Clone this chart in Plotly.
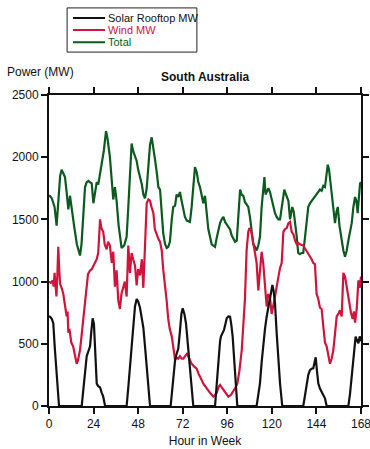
import plotly.graph_objects as go

# ---- data (hour in week, MW) ----
solar_h = [0, 0.5, 1.5, 2.3, 3.2, 4.1, 5, 5.4, 17.6, 18.5, 19.4, 20.3, 21.2, 22.1, 22.8, 23.5, 24.2, 24.8, 25.3, 25.7,
           26.5, 27.5, 28.3, 29.2, 30.2, 41.8, 42.7, 43.6, 44.5, 45.3, 46.3, 47.2, 48, 49, 49.9, 50.8, 51.7, 52.6, 53.5,
           54.4, 65.5, 66.5, 67.9, 68.7, 69.6, 70.5, 71.3, 72, 72.9, 73.8, 74.7, 75.6, 76.5, 77.7, 89.4, 90.3, 91.2,
           92.1, 92.6, 93.3, 94.2, 95, 95.7, 96.6, 97.5, 98.2, 98.9, 99.6, 100.2, 101.4, 111.8, 112.7, 113.6, 114.5,
           115.4, 116.3, 117.2, 118.1, 119, 119.7, 120.3, 121, 121.7, 122.6, 123.5, 124.4, 125.6, 136.9, 137.8, 138.7,
           139.6, 140.5, 141.4, 142.3, 143, 143.6, 144.3, 145, 145.9, 146.8, 147.7, 148.6, 149.5, 161.2, 162.1, 163,
           164.2, 165.1, 165.8, 166.6, 167.3, 168]
solar_mw = [720, 718, 700, 665, 450, 240, 60, 0, 0, 130, 300, 400, 440, 480, 600, 705, 660, 500, 300, 180,
            160, 150, 110, 75, 0, 0, 150, 300, 450, 640, 800, 860, 840, 790, 720, 630, 480, 310, 120,
            0, 0, 150, 370, 420, 460, 600, 740, 785, 740, 660, 520, 370, 180, 0, 0, 180, 370,
            520, 560, 580, 610, 660, 705, 720, 718, 650, 557, 400, 263, 0, 0, 80, 182, 350,
            504, 620, 718, 800, 879, 940, 973, 920, 825, 584, 380, 182, 0, 0, 80, 182,
            250, 289, 300, 303, 350, 391, 280, 182, 140, 115, 90, 62, 0, 0, 100, 236,
            450, 557, 530, 504, 560, 520]

wind_h = [0, 1, 2, 2.5, 3, 3.5, 4, 4.5, 5, 5.5, 6, 7, 7.7, 8.5, 9.5, 10, 10.4, 11, 12, 13, 14, 14.9, 15.5, 16.7,
          17.5, 18.5, 19.5, 20.3, 21, 22.1, 23, 24, 24.8, 25.7, 26.5, 27, 27.5, 28.2, 29.2, 30, 31, 31.8, 32.8,
          33.8, 34.6, 35.5, 36.4, 37.3, 38.2, 39, 40, 40.8, 41.8, 42.7, 43.6, 44.5, 45.3, 46.3, 47.2, 48, 49, 50,
          50.8, 51.5, 52.6, 53.5, 54.4, 55.2, 56.2, 57, 58, 59, 59.8, 60.7, 61.5, 62.5, 63.4, 64.2, 65, 66.1, 67,
          67.9, 68.7, 69.6, 70.5, 71.5, 72.3, 73.5, 74.5, 75.5, 76.8, 78, 79.5, 80.5, 81.3, 82.2, 83.1, 84.5, 85.8,
          87, 88.5, 89.5, 90.3, 91.2, 92.1, 93, 93.9, 95, 96.6, 98, 99.2, 100.5, 101.4, 102.5, 103.8, 104.6, 105.5,
          106.4, 107.3, 107.9, 108.5, 109.2, 110, 110.9, 111.8, 112.7, 113.6, 114.5, 115.4, 116.2, 117.2, 118, 119,
          119.9, 120.8, 121.7, 122.6, 123.5, 124.4, 125.3, 126.2, 127, 128, 128.9, 129.8, 130.7, 131.6, 132.5,
          133.4, 134.3, 135.2, 136.9, 138.7, 140.5, 141.4, 142.3, 143.2, 144.1, 145, 145.9, 146.8, 147.7, 148.6,
          149.5, 150.4, 151.3, 152.2, 153.1, 154, 154.9, 155.8, 156.7, 157.6, 158.5, 159.4, 160.3, 161.2, 162,
          162.6, 163.5, 164.2, 164.8, 165.7, 166.6, 167.3, 168]
wind_mw = [1000, 990, 1010, 960, 1070, 1000, 880, 1050, 1280, 1100, 980, 940, 900, 820, 720, 760, 590, 620, 510, 480,
           400, 340, 360, 450, 560, 720, 880, 1010, 1060, 1090, 1100, 1130, 1150, 1180, 1230, 1350, 1500, 1430, 1400,
           1300, 1260, 1320, 1290, 1150, 1240, 960, 1090, 850, 780, 900, 960, 1000, 880, 1290, 1070, 1230, 1180,
           1130, 970, 1100, 1050, 1180, 950, 1200, 1630, 1660, 1650, 1600, 1550, 1420, 1370, 1340, 1320, 1250,
           1100, 980, 840, 700, 620, 560, 460, 370, 390, 380, 400, 380, 380, 410, 425, 380, 340, 320, 300, 260,
           240, 210, 180, 150, 130, 100, 75, 90, 105, 150, 170, 150, 130, 100, 75, 90, 115, 150, 180, 280, 450,
           650, 860, 1250, 1400, 1430, 1420, 1380, 1300, 1210, 1150, 930, 1120, 1240, 1140, 950, 800, 900, 870,
           740, 800, 880, 960, 1040, 1110, 1150, 1400, 1420, 1430, 1470, 1480, 1400, 1380, 1330, 1300, 1310,
           1300, 1290, 1250, 1210, 1180, 1150, 1140, 900, 860, 790, 780, 640, 510, 480, 420, 340, 380, 450,
           580, 720, 740, 770, 720, 1070, 1040, 950, 850, 780, 750, 700, 760, 670, 780, 1010, 950, 1040]

total_h = [0, 0.5, 1.5, 2.3, 3, 4.1, 5, 6, 6.8, 7.7, 8.6, 9.5, 10.4, 11.3, 12.2, 13.5, 15, 16.7, 17.5, 18.5, 19.4,
           20.3, 21.2, 22, 23, 23.9, 24.8, 25.7, 26.5, 27.5, 28.5, 29.5, 30.7, 31.5, 32.8, 33.7, 34.6, 35.5, 36.4,
           37.5, 39.1, 40.5, 41.8, 42.7, 43.6, 44.5, 45.3, 46.3, 47.2, 48, 49, 50, 50.8, 51.7, 52.6, 53.5, 54.4,
           55.3, 56.2, 57.1, 58, 58.9, 59.8, 60.7, 61.5, 62.5, 63.4, 64.2, 65.1, 66.1, 66.9, 67.9, 68.7, 69.6, 70.5,
           71.4, 72.3, 73.2, 74.2, 75.9, 76.8, 77.7, 78.6, 79.5, 80.4, 81.3, 82.2, 83.1, 84, 84.9, 85.8, 86.7, 87.6,
           88.5, 89.4, 90.3, 91.2, 92.1, 93, 93.9, 94.8, 95.7, 96.6, 97.5, 98.4, 99.3, 100.2, 101.1, 102, 102.9,
           103.7, 104.6, 105.5, 106.4, 107.3, 108.2, 109.2, 110, 110.9, 111.8, 112.7, 113.6, 114.5, 115.4, 116,
           116.6, 117.2, 118.1, 119, 119.9, 120.8, 121.7, 122.6, 123.5, 124.4, 125.3, 126.2, 126.7, 127.6, 128.9,
           129.8, 130.7, 131, 131.8, 132.5, 133.4, 134.2, 135.1, 136, 136.9, 137.8, 138.7, 139.6, 140.5, 141.4,
           142.3, 143.2, 144.1, 145, 145.9, 146.8, 147.7, 148.6, 149.3, 150.1, 150.8, 151.5, 152.2, 153.1, 154,
           154.8, 155.5, 156.4, 157.3, 158.5, 159.4, 160.3, 161.2, 162.1, 163, 163.9, 164.8, 165.5, 166.2, 167,
           167.5, 168]
total_mw = [1690, 1688, 1670, 1640, 1600, 1450, 1650, 1850, 1900, 1870, 1840, 1720, 1580, 1690, 1580, 1450, 1300,
            1210, 1300, 1550, 1760, 1800, 1810, 1800, 1790, 1630, 1720, 1800, 1780, 1860, 1950, 2050, 2210, 2150,
            2000, 1850, 1660, 1760, 1650, 1450, 1270, 1290, 1360, 1600, 1900, 2110, 2050, 2000, 1970, 1900, 1840,
            1780, 1700, 1670, 1750, 1950, 2100, 2160, 2080, 1980, 1880, 1760, 1740, 1550, 1390, 1300, 1270, 1280,
            1320, 1500, 1600, 1610, 1700, 1680, 1720, 1650, 1580, 1520, 1490, 1480, 1600, 1800, 1920, 1880, 1800,
            1760, 1700, 1630, 1690, 1550, 1420, 1360, 1300, 1290, 1280, 1350, 1420, 1470, 1500, 1520, 1480, 1460,
            1440, 1420, 1370, 1340, 1320, 1330, 1550, 1740, 1700, 1690, 1640, 1620, 1600, 1520, 1370, 1300, 1280,
            1250, 1290, 1360, 1600, 1780, 1840, 1700, 1720, 1750, 1720, 1660, 1600, 1550, 1520, 1500, 1500, 1600,
            1700, 1740, 1700, 1650, 1500, 1560, 1600, 1560, 1490, 1360, 1230, 1220, 1230, 1230, 1350, 1500, 1600,
            1630, 1650, 1670, 1680, 1700, 1720, 1740, 1730, 1770, 1760, 1850, 1940, 1900, 1800, 1740, 1600, 1470,
            1560, 1600, 1450, 1350, 1250, 1200, 1250, 1330, 1400, 1470, 1600, 1680, 1650, 1550, 1700, 1790, 1800]

x_ticks = [0, 24, 48, 72, 96, 120, 144, 168]
y_ticks = [0, 500, 1000, 1500, 2000, 2500]

series_names = ["Solar Rooftop MW", "Wind MW", "Total"]
series_colors = ["#111111", "#d0143c", "#0b5a1e"]

FONT = "Liberation Sans, Arial, sans-serif"

fig = go.Figure()
for h, v, name, col in [(total_h, total_mw, series_names[2], series_colors[2]),
                        (wind_h, wind_mw, series_names[1], series_colors[1]),
                        (solar_h, solar_mw, series_names[0], series_colors[0])]:
    fig.add_trace(go.Scatter(x=h, y=v, mode="lines", name=name,
                             line=dict(color=col, width=2.2), showlegend=False))

# manual legend (paper coordinates)
L, R, T, B = 0.058, 0.474, 1.280, 1.138
shapes = [dict(type="rect", xref="paper", yref="paper", x0=L, x1=R, y0=B, y1=T,
               line=dict(color="#222222", width=1), fillcolor="white")]
annots = []
rows = [1.2476, 1.209, 1.170]
for name, col, yy in zip(series_names, series_colors, rows):
    shapes.append(dict(type="line", xref="paper", yref="paper", x0=0.077, x1=0.1795, y0=yy, y1=yy,
                       line=dict(color=col, width=2)))
    annots.append(dict(xref="paper", yref="paper", x=0.184, y=yy, xanchor="left", yanchor="middle",
                       text=name, showarrow=False, font=dict(family=FONT, size=11, color=col)))

annots.append(dict(xref="paper", yref="paper", x=-0.141, y=1.074, xanchor="left", yanchor="middle",
                   text="Power (MW)", showarrow=False, font=dict(family=FONT, size=12, color="#111111")))
annots.append(dict(xref="paper", yref="paper", x=0.5, y=1.058, xanchor="center", yanchor="middle",
                   text="<b>South Australia</b>", showarrow=False, font=dict(family=FONT, size=12, color="#111111")))

axis_common = dict(showline=True, linecolor="#111111", linewidth=2, mirror="allticks",
                   ticks="outside", ticklen=6, tickwidth=2, tickcolor="#111111",
                   showgrid=False, zeroline=False, automargin=False, ticklabeloverflow="allow",
                   tickfont=dict(family=FONT, size=12, color="#111111"))

fig.update_layout(
    width=370, height=449,
    margin=dict(l=49, r=9, t=95, b=43),
    paper_bgcolor="white", plot_bgcolor="white",
    shapes=shapes, annotations=annots,
    xaxis=dict(range=[0, 168], tickvals=x_ticks, ticktext=[str(t) for t in x_ticks],
               title=dict(text="Hour in Week", font=dict(family=FONT, size=12, color="#111111"), standoff=6),
               **axis_common),
    yaxis=dict(range=[0, 2500], tickvals=y_ticks, ticktext=[str(t) for t in y_ticks], **axis_common),
    font=dict(family=FONT, size=12, color="#111111"),
)

fig.write_html("out.html")
